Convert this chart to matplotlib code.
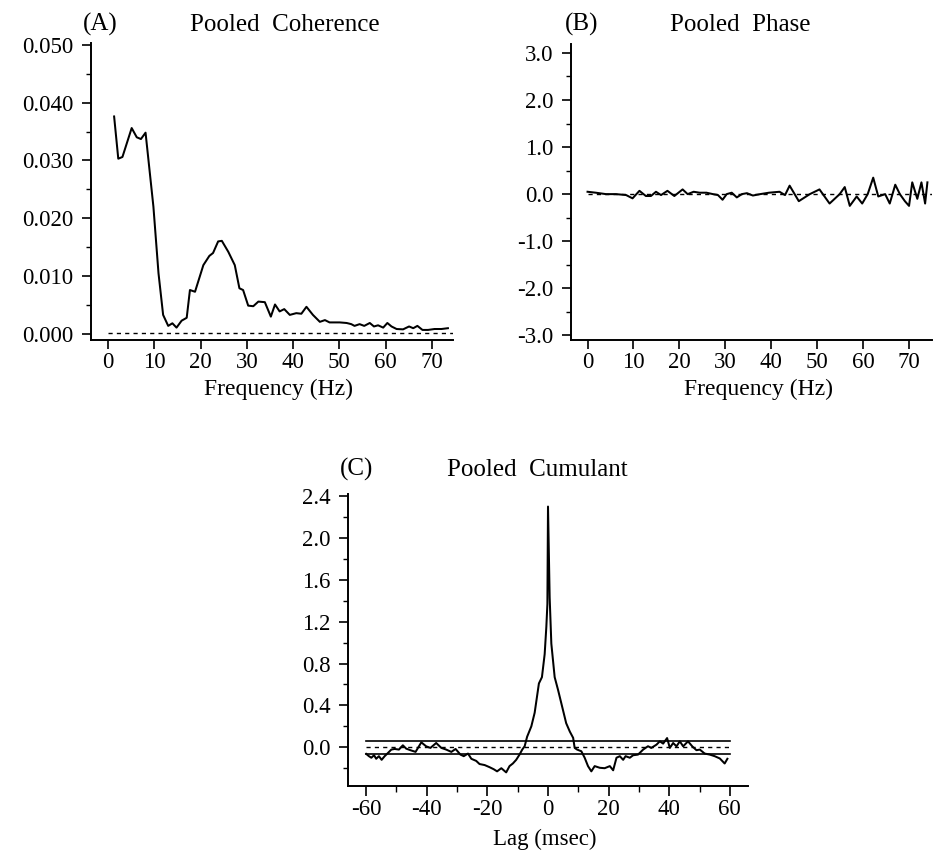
import matplotlib
matplotlib.use("Agg")
import matplotlib.pyplot as plt
from matplotlib.ticker import MultipleLocator, FormatStrFormatter

plt.rcParams['font.family'] = ['Liberation Serif', 'DejaVu Serif']
plt.rcParams['axes.unicode_minus'] = False

# ---------------- data ----------------
# (A) pooled coherence
coh_freq = [1.3, 2.2, 3.1, 5.1, 6.2, 7.1, 8.1, 9.8, 10.9, 11.9, 13.0, 13.9, 14.8, 15.9,
            17.0, 17.7, 18.8, 20.6, 21.9, 22.7, 23.8, 24.6, 26.0, 27.4, 28.4, 29.2, 30.3,
            31.4, 32.5, 33.9, 35.2, 36.1, 37.1, 38.1, 39.3, 40.7, 41.8, 42.9, 44.3, 45.8,
            46.9, 47.9, 50.1, 51.6, 52.6, 53.3, 54.4, 55.4, 56.6, 57.5, 58.4, 59.5, 60.4,
            61.3, 62.4, 63.8, 65.1, 66.0, 66.9, 68.0, 69.2, 70.6, 72.1, 73.5]
coh_vals = [0.0376, 0.0303, 0.0306, 0.0356, 0.0340, 0.0337, 0.0348, 0.0220, 0.0105, 0.0033,
            0.0014, 0.00185, 0.0011, 0.0023, 0.0028, 0.0076, 0.0073, 0.0119, 0.0135, 0.0140,
            0.0160, 0.0161, 0.0142, 0.0119, 0.0079, 0.0076, 0.0049, 0.0048, 0.0056, 0.0055,
            0.0030, 0.0051, 0.0039, 0.0043, 0.0033, 0.0036, 0.0035, 0.0047, 0.0033, 0.0021,
            0.0024, 0.0020, 0.0020, 0.0019, 0.0017, 0.0014, 0.0017, 0.0014, 0.0019, 0.0013,
            0.0015, 0.0011, 0.0019, 0.0013, 0.00086, 0.0008, 0.0013, 0.0010, 0.0014, 0.0007,
            0.0007, 0.00086, 0.00086, 0.0010]
coh_conf = 0.0002

# (B) pooled phase
ph_freq = [0.0, 1.8, 4.0, 6.2, 8.4, 9.8, 11.3, 12.7, 13.8, 14.9, 16.0, 17.4, 18.9, 20.7,
           21.8, 23.1, 24.4, 25.9, 27.3, 28.4, 29.4, 30.3, 31.4, 32.5, 33.6, 34.7, 36.0,
           37.6, 39.5, 41.8, 43.0, 44.0, 46.0, 48.4, 50.5, 52.7, 54.9, 56.0, 57.1, 58.6,
           59.8, 61.0, 62.2, 63.3, 64.8, 65.8, 67.0, 68.0, 69.1, 70.0, 70.7, 71.8, 72.7,
           73.5, 74.0]
ph_vals = [0.05, 0.03, 0.0, 0.0, -0.02, -0.09, 0.07, -0.04, -0.04, 0.05, -0.02, 0.07, -0.04,
           0.10, 0.0, 0.05, 0.03, 0.03, 0.0, -0.02, -0.12, 0.0, 0.03, -0.07, 0.0, 0.02, -0.03,
           0.0, 0.03, 0.05, -0.02, 0.18, -0.15, 0.0, 0.10, -0.20, 0.0, 0.15, -0.25, -0.05,
           -0.20, 0.0, 0.35, -0.05, 0.0, -0.20, 0.20, 0.0, -0.15, -0.25, 0.25, -0.10, 0.25,
           -0.20, 0.25]

# (C) pooled cumulant
cum_lag = [-60.0, -59.1, -58.3, -57.4, -56.7, -55.8, -54.9, -53.9, -52.8, -51.7, -50.6,
           -49.2, -47.9, -46.8, -45.4, -43.7, -41.8, -40.2, -38.8, -36.9, -35.2, -33.6,
           -31.9, -30.5, -28.9, -27.8, -26.4, -25.3, -23.7, -22.6, -20.9, -19.3, -17.9,
           -16.8, -15.4, -13.8, -12.7, -11.6, -10.5, -9.4, -8.5, -7.7, -6.9, -5.5, -4.4,
           -3.0, -2.0, -1.1, -0.55, -0.2, 0.0, 0.55, 1.1, 2.2, 3.3, 4.4, 6.0, 7.2, 8.3,
           8.8, 9.6, 11.0, 12.1, 13.2, 14.3, 15.4, 17.1, 18.7, 20.4, 21.5, 22.6, 23.7,
           24.8, 25.6, 27.0, 28.1, 29.7, 31.4, 33.0, 34.1, 35.8, 36.9, 38.0, 39.3, 40.2,
           41.3, 42.4, 43.5, 44.6, 46.2, 47.6, 49.0, 50.1, 51.7, 53.4, 55.0, 56.7, 58.3,
           59.2]
cum_vals = [-0.063, -0.085, -0.10, -0.076, -0.11, -0.085, -0.12, -0.085, -0.054, -0.022,
            -0.016, -0.022, 0.019, -0.013, -0.028, -0.044, 0.047, 0.009, -0.006, 0.041,
            -0.006, -0.022, -0.044, -0.016, -0.07, -0.085, -0.06, -0.11, -0.13, -0.16,
            -0.17, -0.19, -0.21, -0.23, -0.20, -0.24, -0.18, -0.155, -0.12, -0.07, -0.022,
            0.01, 0.10, 0.20, 0.33, 0.61, 0.67, 0.89, 1.15, 1.37, 2.30, 1.43, 0.99, 0.67,
            0.55, 0.42, 0.23, 0.15, 0.09, -0.006, -0.022, -0.038, -0.10, -0.18, -0.23,
            -0.18, -0.196, -0.20, -0.18, -0.22, -0.10, -0.085, -0.12, -0.085, -0.10, -0.076,
            -0.07, -0.022, 0.01, -0.006, 0.025, 0.057, 0.035, 0.088, -0.006, 0.041, 0.009,
            0.057, 0.009, 0.057, 0.009, -0.028, -0.022, -0.06, -0.07, -0.085, -0.107,
            -0.155, -0.11]
cum_conf = 0.06

# ---------------- figure ----------------
W, H = 950, 852
fig = plt.figure(figsize=(W / 100, H / 100), dpi=100)

FS_TICK = 16.5
FS_LAB = 17
FS_TITLE = 18
LW = 1.45

def box(l, t, r, b):
    return [l / W, 1 - b / H, (r - l) / W, (b - t) / H]

def style(ax, xmaj=6.5, xmin=4, xpad=2):
    for s in ('top', 'right'):
        ax.spines[s].set_visible(False)
    for s in ('left', 'bottom'):
        ax.spines[s].set_linewidth(1.4)
    ax.tick_params(which='both', direction='out', labelsize=FS_TICK)
    ax.tick_params(axis='y', which='major', length=6.5, width=1.2, pad=6)
    ax.tick_params(axis='y', which='minor', length=3.5, width=1.0)
    ax.tick_params(axis='x', which='major', length=xmaj, width=1.2, pad=xpad)
    ax.tick_params(axis='x', which='minor', length=xmin, width=1.0)
    ax.tick_params(axis='x', which='both', top=False)
    ax.tick_params(axis='y', which='both', right=False)

# (A)
axA = fig.add_axes(box(91, 43, 453, 340))
style(axA)
axA.plot(coh_freq, coh_vals, color='black', lw=LW)
axA.plot([0, 74.6], [coh_conf, coh_conf], color='black', lw=1.0, ls=(0, (3, 3)))
axA.set_xlim(-3.7, 74.6)
axA.set_ylim(-0.00104, 0.0503)
axA.xaxis.set_major_locator(MultipleLocator(10))
axA.yaxis.set_major_locator(MultipleLocator(0.01))
axA.yaxis.set_minor_locator(MultipleLocator(0.005))
axA.yaxis.set_major_formatter(FormatStrFormatter('%.3f'))

# (B)
axB = fig.add_axes(box(571, 44, 932, 340))
style(axB)
axB.plot(ph_freq, ph_vals, color='black', lw=LW)
axB.plot([0, 75], [0, 0], color='black', lw=1.0, ls=(0, (3, 3)))
axB.set_xlim(-3.6, 75)
axB.set_ylim(-3.1, 3.19)
axB.xaxis.set_major_locator(MultipleLocator(10))
axB.yaxis.set_major_locator(MultipleLocator(1.0))
axB.yaxis.set_minor_locator(MultipleLocator(0.5))
axB.yaxis.set_major_formatter(FormatStrFormatter('%.1f'))

# (C)
axC = fig.add_axes(box(348, 494, 748, 786))
style(axC, xmaj=7.5, xmin=4.5, xpad=2)
axC.plot(cum_lag, cum_vals, color='black', lw=LW)
axC.plot([-60, 60], [cum_conf, cum_conf], color='black', lw=1.2)
axC.plot([-60, 60], [-cum_conf, -cum_conf], color='black', lw=1.2)
axC.plot([-60, 60], [0, 0], color='black', lw=1.0, ls=(0, (3, 3)))
axC.set_xlim(-66, 66)
axC.set_ylim(-0.37, 2.42)
axC.xaxis.set_major_locator(MultipleLocator(20))
axC.xaxis.set_minor_locator(MultipleLocator(10))
axC.set_yticks([0.0, 0.4, 0.8, 1.2, 1.6, 2.0, 2.4])
axC.yaxis.set_minor_locator(MultipleLocator(0.2))
axC.yaxis.set_major_formatter(FormatStrFormatter('%.1f'))

# texts placed in pixel coordinates (x, baseline y)
def ftext(x, y, s, fs, ha='left'):
    fig.text(x / W, 1 - y / H, s, fontsize=fs, ha=ha, va='baseline')

ftext(83, 31, '(A)', FS_TITLE)
ftext(190, 31, 'Pooled  Coherence', FS_TITLE)
ftext(565, 31, '(B)', FS_TITLE)
ftext(670, 31, 'Pooled  Phase', FS_TITLE)
ftext(340, 476, '(C)', FS_TITLE)
ftext(447, 476, 'Pooled  Cumulant', FS_TITLE)

ftext(279, 395, 'Frequency (Hz)', FS_LAB, ha='center')
ftext(759, 395, 'Frequency (Hz)', FS_LAB, ha='center')
ftext(545, 845, 'Lag (msec)', 16.5, ha='center')

fig.savefig('out.png', dpi=100)
